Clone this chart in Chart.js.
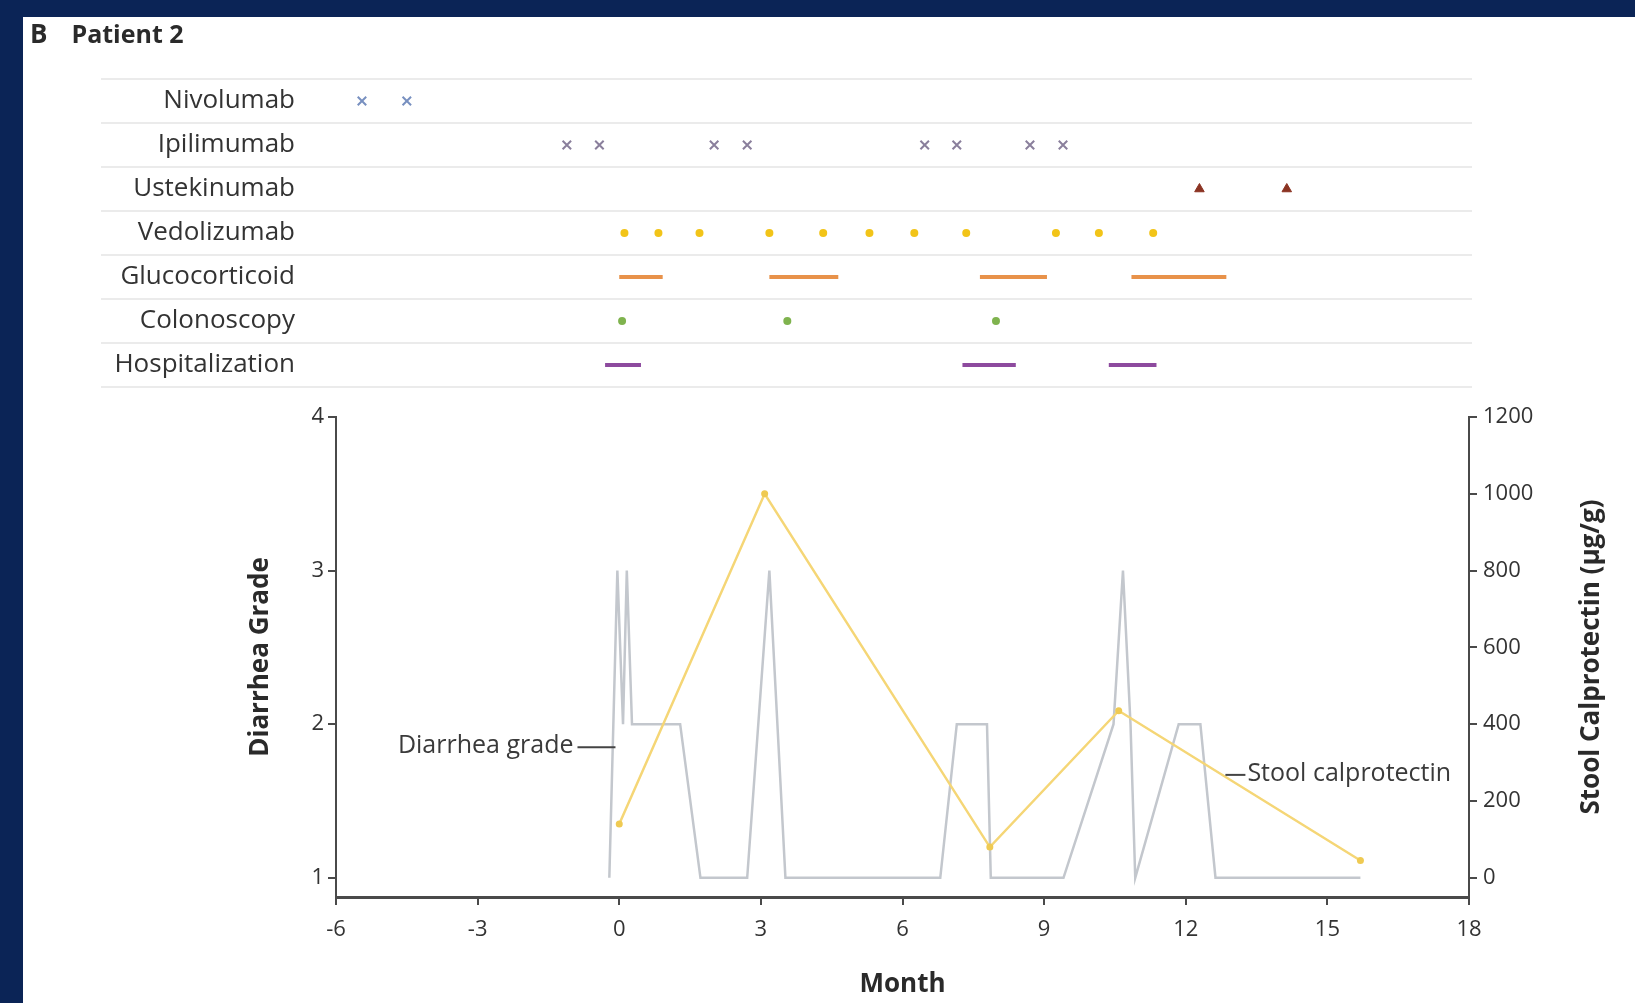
<!DOCTYPE html>
<html>
<head>
<meta charset="utf-8">
<title>Patient 2</title>
<script src="https://cdn.jsdelivr.net/npm/chart.js@4.4.1/dist/chart.umd.min.js"></script>
<style>
  html, body { margin: 0; padding: 0; background: #fff; }
  #page { position: relative; width: 1635px; height: 1003px; overflow: hidden; background: #fff; font-family: "Open Sans", sans-serif; }
  .frame { position: absolute; background: #0b2456; z-index: 3; }
  #title { position: absolute; left: 30px; top: 16px; line-height: 34px; font-size: 25px; font-weight: bold; color: #2a2a2a; z-index: 2; }
  #title .b { margin-right: 24px; font-size: 26px; }
  canvas { position: absolute; left: 0; }
  #timeline { top: 0; }
  #lines { top: 390px; }
</style>
</head>
<body>
<div id="page">
  <div class="frame" style="left:0;top:0;width:1635px;height:17px"></div>
  <div class="frame" style="left:0;top:0;width:23px;height:1003px"></div>
  <div id="title"><span class="b">B</span><span>Patient 2</span></div>
  <canvas id="timeline" width="1635" height="390"></canvas>
  <canvas id="lines" width="1635" height="613"></canvas>
</div>
<script>
// rows of the treatment timeline
const rowLabels = ['Nivolumab', 'Ipilimumab', 'Ustekinumab', 'Vedolizumab', 'Glucocorticoid', 'Colonoscopy', 'Hospitalization'];

// months of each event
const nivolumabMonths = [-5.45, -4.5];
const ipilimumabMonths = [-1.11, -0.42, 2.01, 2.71, 6.47, 7.15, 8.70, 9.40];
const ustekinumabMonths = [12.29, 14.14];
const vedolizumabMonths = [0.11, 0.83, 1.70, 3.18, 4.32, 5.30, 6.25, 7.35, 9.25, 10.16, 11.31];
const glucocorticoidStart = [0.0, 3.18, 7.64, 10.85];
const glucocorticoidEnd = [0.92, 4.64, 9.06, 12.86];
const colonoscopyMonths = [0.06, 3.56, 7.98];
const hospitalStart = [-0.30, 7.27, 10.37];
const hospitalEnd = [0.46, 8.40, 11.38];

// lower panel
const diarrheaMonths = [-0.21, -0.04, 0.08, 0.16, 0.27, 1.29, 1.72, 2.71, 3.18, 3.52, 6.80, 7.15, 7.79, 7.87, 9.41, 10.47, 10.67, 10.83, 10.93, 11.85, 12.31, 12.63, 15.70];
const diarrheaGrades = [1, 3, 2, 3, 2, 2, 1, 1, 3, 1, 1, 2, 2, 1, 1, 2, 3, 2, 1, 2, 2, 1, 1];
const calproMonths = [0, 3.08, 7.85, 10.58, 15.70];
const calproValues = [140, 1000, 80, 435, 45];

const gradeTicks = [1, 2, 3, 4];
const calproTicks = [0, 200, 400, 600, 800, 1000, 1200];

const TEXT = '#333';
const AXIS = '#4a4a4a';
const tickFont = { family: '"Open Sans", sans-serif', size: 22 };

function row(months, label) {
    return months.map(m => ({ x: m, y: label }));
}

// start/end pairs -> line with gaps between the bars
function spans(starts, ends, label) {
    const pts = [];
    starts.forEach((s, i) => {
        pts.push({ x: s, y: label }, { x: ends[i], y: label }, { x: ends[i], y: null });
    });
    return pts;
}

// light separators between the rows, running under the labels too
const rowLines = {
    id: 'rowLines',
    beforeDatasetsDraw(chart) {
        const { ctx, scales } = chart;
        ctx.save();
        ctx.strokeStyle = '#ebebeb';
        ctx.lineWidth = 2;
        for (let i = 0; i <= rowLabels.length; i++) {
            const y = Math.round(scales.y.getPixelForValue(i - 0.5));
            ctx.beginPath();
            ctx.moveTo(101, y);
            ctx.lineTo(1472, y);
            ctx.stroke();
        }
        ctx.restore();
    }
};

new Chart(document.getElementById('timeline'), {
    type: 'scatter',
    data: {
        datasets: [
            { data: row(nivolumabMonths, 'Nivolumab'), pointStyle: 'crossRot', pointRadius: 6, pointBorderWidth: 2, pointBorderColor: '#7890c0' },
            { data: row(ipilimumabMonths, 'Ipilimumab'), pointStyle: 'crossRot', pointRadius: 6, pointBorderWidth: 2, pointBorderColor: '#8a7f9c' },
            { data: row(ustekinumabMonths, 'Ustekinumab'), pointStyle: 'triangle', pointRadius: 5.5, pointBorderWidth: 1, pointBorderColor: '#8b3322', pointBackgroundColor: '#8b3322' },
            { data: row(vedolizumabMonths, 'Vedolizumab'), pointStyle: 'circle', pointRadius: 4, pointBorderWidth: 0, pointBackgroundColor: '#f2c418' },
            { data: spans(glucocorticoidStart, glucocorticoidEnd, 'Glucocorticoid'), showLine: true, spanGaps: false, pointRadius: 0, borderWidth: 4, borderColor: '#e8924a', borderCapStyle: 'butt' },
            { data: row(colonoscopyMonths, 'Colonoscopy'), pointStyle: 'circle', pointRadius: 4, pointBorderWidth: 0, pointBackgroundColor: '#7fb34e' },
            { data: spans(hospitalStart, hospitalEnd, 'Hospitalization'), showLine: true, spanGaps: false, pointRadius: 0, borderWidth: 4, borderColor: '#8d4a9e', borderCapStyle: 'butt' }
        ]
    },
    options: {
        responsive: false,
        devicePixelRatio: 1,
        animation: false,
        layout: { autoPadding: false, padding: { top: 79, bottom: 3, left: 0, right: 166 } },
        plugins: { legend: { display: false }, tooltip: { enabled: false } },
        scales: {
            x: { type: 'linear', min: -6, max: 18, display: false },
            y: {
                type: 'category',
                labels: rowLabels,
                offset: true,
                grid: { display: false, drawTicks: false },
                border: { display: false },
                ticks: { color: TEXT, padding: 41, font: { family: '"Open Sans", sans-serif', size: 26 } },
                afterFit(scale) {
                    scale.width = 336;
                    scale.paddingTop = 0;
                    scale.paddingBottom = 0;
                }
            }
        }
    },
    plugins: [rowLines]
});

// axis titles and the two line labels
const notes = {
    id: 'notes',
    afterDraw(chart) {
        const { ctx, chartArea, scales } = chart;
        const midY = (chartArea.top + chartArea.bottom) / 2;
        ctx.save();
        ctx.fillStyle = '#2a2a2a';
        ctx.font = 'bold 26px "Open Sans", sans-serif';
        ctx.textAlign = 'center';
        ctx.textBaseline = 'middle';

        ctx.save();
        ctx.translate(chartArea.left - 75, midY);
        ctx.rotate(-Math.PI / 2);
        ctx.fillText('Diarrhea Grade', 0, 0);
        ctx.restore();

        ctx.save();
        ctx.translate(chartArea.right + 123, midY);
        ctx.rotate(-Math.PI / 2);
        ctx.fillText('Stool Calprotectin (\u03bcg/g)', 0, 0);
        ctx.restore();

        ctx.fillText('Month', (chartArea.left + chartArea.right) / 2, chartArea.bottom + 88);

        ctx.font = '25px "Open Sans", sans-serif';
        ctx.fillStyle = '#3a3a3a';
        ctx.strokeStyle = '#444';
        ctx.lineWidth = 2;

        let ax = scales.x.getPixelForValue(-0.08);
        let ay = scales.y.getPixelForValue(1.85);
        ctx.beginPath();
        ctx.moveTo(ax - 38, ay);
        ctx.lineTo(ax, ay);
        ctx.stroke();
        ctx.textAlign = 'right';
        ctx.fillText('Diarrhea grade', ax - 42, ay - 1);

        ax = scales.x.getPixelForValue(12.84);
        ay = scales.y.getPixelForValue(1.67);
        ctx.beginPath();
        ctx.moveTo(ax, ay);
        ctx.lineTo(ax + 20, ay);
        ctx.stroke();
        ctx.textAlign = 'left';
        ctx.fillText('Stool calprotectin', ax + 22, ay - 1);
        ctx.restore();
    }
};

new Chart(document.getElementById('lines'), {
    type: 'line',
    data: {
        datasets: [
            {
                label: 'Stool calprotectin',
                yAxisID: 'y1',
                data: calproMonths.map((m, i) => ({ x: m, y: calproValues[i] })),
                borderColor: '#f5d676',
                borderWidth: 2.5,
                pointRadius: 3.5,
                pointBorderWidth: 0,
                pointBackgroundColor: '#efca52',
                order: 1
            },
            {
                label: 'Diarrhea grade',
                yAxisID: 'y',
                data: diarrheaMonths.map((m, i) => ({ x: m, y: diarrheaGrades[i] })),
                borderColor: '#c3c7cd',
                borderWidth: 2.5,
                pointRadius: 0,
                order: 2
            }
        ]
    },
    options: {
        responsive: false,
        devicePixelRatio: 1,
        animation: false,
        layout: { autoPadding: false, padding: { top: 27, bottom: 0, left: 23, right: 0 } },
        plugins: { legend: { display: false }, tooltip: { enabled: false } },
        scales: {
            x: {
                type: 'linear',
                min: -6,
                max: 18,
                ticks: { stepSize: 3, color: TEXT, font: tickFont, padding: 12 },
                grid: { drawOnChartArea: false, tickLength: 8, lineWidth: 2, color: AXIS },
                border: { color: AXIS, width: 3 },
                afterFit(scale) { scale.height = 106; }
            },
            y: {
                position: 'left',
                min: 0.875,
                max: 4,
                afterBuildTicks(scale) { scale.ticks = gradeTicks.map(v => ({ value: v })); },
                ticks: { color: TEXT, font: tickFont, padding: 4, callback: v => String(v) },
                grid: { drawOnChartArea: false, tickLength: 8, lineWidth: 2, color: AXIS },
                border: { color: AXIS, width: 2 },
                afterFit(scale) { scale.width = 313; }
            },
            y1: {
                position: 'right',
                min: -50,
                max: 1200,
                afterBuildTicks(scale) { scale.ticks = calproTicks.map(v => ({ value: v })); },
                ticks: { color: TEXT, font: tickFont, padding: 6, callback: v => String(v) },
                grid: { drawOnChartArea: false, tickLength: 8, lineWidth: 2, color: AXIS },
                border: { color: AXIS, width: 2 },
                afterFit(scale) { scale.width = 166; }
            }
        }
    },
    plugins: [notes]
});
</script>
</body>
</html>
